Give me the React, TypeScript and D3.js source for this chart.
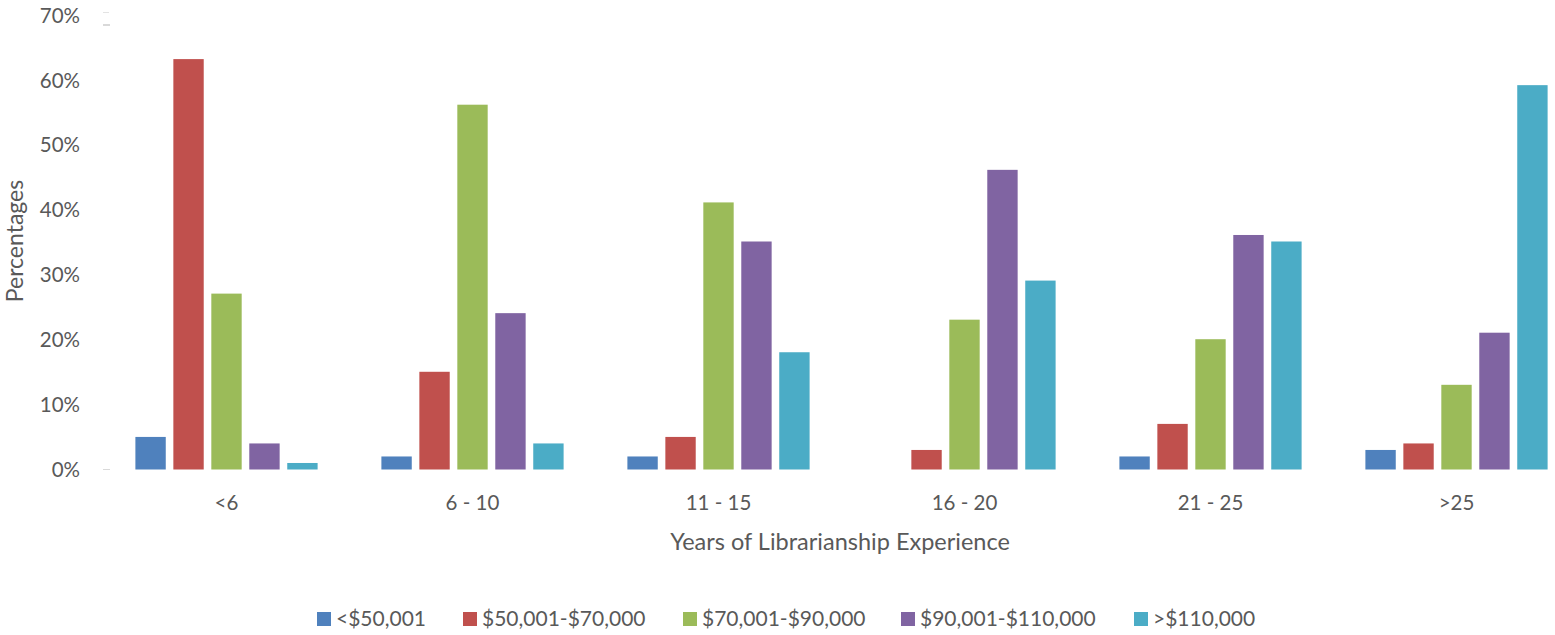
import React from "react";
import * as d3 from "d3";

const categories = ["<6", "6 - 10", "11 - 15", "16 - 20", "21 - 25", ">25"];
const seriesNames = ["<$50,001", "$50,001-$70,000", "$70,001-$90,000", "$90,001-$110,000", ">$110,000"];
const colors = ["#4F81BD", "#C0504D", "#9BBB59", "#8064A2", "#4BACC6"];

// one array per salary band, values in % per experience group
const under50 = [5, 2, 2, 0, 2, 3];
const from50to70 = [63, 15, 5, 3, 7, 4];
const from70to90 = [27, 56, 41, 23, 20, 13];
const from90to110 = [4, 24, 35, 46, 36, 21];
const over110 = [1, 4, 18, 29, 35, 59];
const seriesValues = [under50, from50to70, from70to90, from90to110, over110];

const yTicks = [0, 10, 20, 30, 40, 50, 60, 70];

const W = 1555;
const H = 635;
const textColor = "#595959";
const font = "Lato, 'Open Sans', sans-serif";

const App = () => {
  const x0 = d3.scaleBand().domain(categories).range([103.5, 1579.5]).paddingInner(0).paddingOuter(0);
  const x1 = d3
    .scaleBand()
    .domain(seriesNames)
    .range([0, x0.bandwidth()])
    .paddingInner(0.2)
    .paddingOuter(0.84);
  const y = d3.scaleLinear().domain([0, 70]).range([469.5, 13.5]);

  const legendX = [317, 463, 683, 901, 1134];

  return (
    <svg width={W} height={H} style={{ display: "block", position: "absolute", left: 0, top: 0 }}>
      <rect width={W} height={H} fill="#fff" />

      {/* y axis labels */}
      {yTicks.map((t) => (
        <text
          key={t}
          x={80}
          y={y(t) + (2 * t) / 70}
          dy="0.35em"
          textAnchor="end"
          fontFamily={font}
          fontSize={20.5}
          fill={textColor}
        >
          {t}%
        </text>
      ))}

      {/* stray axis dashes */}
      <line x1={103} x2={110} y1={y(0)} y2={y(0)} stroke="#d9d9d9" strokeWidth={1} />
      <line x1={103} x2={109} y1={12.5} y2={12.5} stroke="#e3e3e3" strokeWidth={1} />
      <line x1={103} x2={110} y1={25} y2={25} stroke="#d9d9d9" strokeWidth={2} />

      {/* bars */}
      {categories.map((c, ci) => (
        <g key={c} transform={`translate(${x0(c)},0)`}>
          {seriesNames.map((s, si) => {
            const v = seriesValues[si][ci];
            if (v <= 0) return null;
            return (
              <rect
                key={s}
                x={x1(s)}
                y={y(v)}
                width={x1.bandwidth()}
                height={y(0) - y(v)}
                fill={colors[si]}
              />
            );
          })}
        </g>
      ))}

      {/* x labels */}
      {categories.map((c) => (
        <text
          key={c}
          x={(x0(c) as number) + x0.bandwidth() / 2}
          y={503}
          dy="0.35em"
          textAnchor="middle"
          fontFamily={font}
          fontSize={20.5}
          fill={textColor}
        >
          {c}
        </text>
      ))}

      <text
        x={840}
        y={542}
        dy="0.35em"
        textAnchor="middle"
        fontFamily={font}
        fontSize={23.5}
        fill={textColor}
      >
        Years of Librarianship Experience
      </text>

      <text
        transform={`translate(15,${241}) rotate(-90)`}
        dy="0.35em"
        textAnchor="middle"
        fontFamily={font}
        fontSize={23}
        fill={textColor}
      >
        Percentages
      </text>

      {/* legend */}
      {seriesNames.map((s, i) => (
        <g key={s} transform={`translate(${legendX[i]},612)`}>
          <rect width={14} height={14} fill={colors[i]} />
          <text x={19} y={7} dy="0.35em" fontFamily={font} fontSize={21} fill={textColor}>
            {s}
          </text>
        </g>
      ))}
    </svg>
  );
};

export default App;
